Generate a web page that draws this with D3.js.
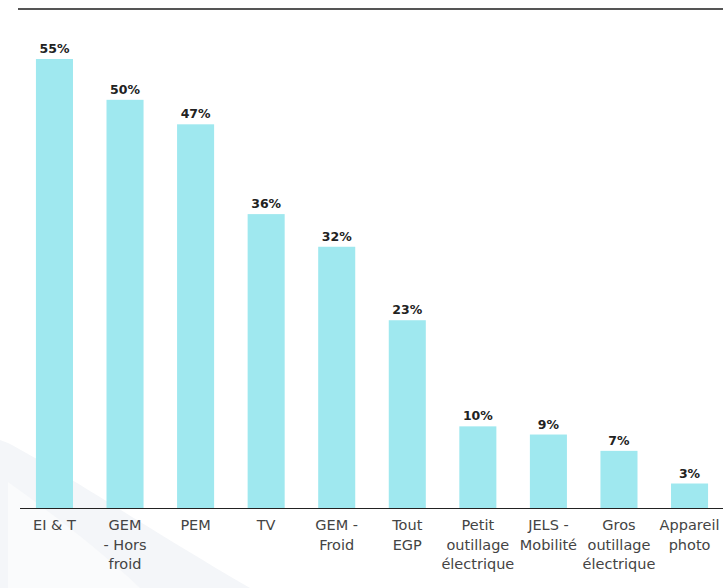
<!DOCTYPE html>
<html>
<head>
<meta charset="utf-8">
<script src="https://cdn.jsdelivr.net/npm/d3@7"></script>
<style>
  body { margin: 0; background: #fff; }
  svg { display: block; }
</style>
</head>
<body>
<div id="chart"></div>
<script>
// categories (label lines) and values in %
const categories = [
  ["EI & T"],
  ["GEM", "- Hors", "froid"],
  ["PEM"],
  ["TV"],
  ["GEM -", "Froid"],
  ["Tout", "EGP"],
  ["Petit", "outillage", "électrique"],
  ["JELS -", "Mobilité"],
  ["Gros", "outillage", "électrique"],
  ["Appareil", "photo"]
];
const values = [55, 50, 47, 36, 32, 23, 10, 9, 7, 3];

const width = 723, height = 588;
const base = 508;

const svg = d3.select("#chart").append("svg")
  .attr("width", width)
  .attr("height", height);

// faint background swoosh bottom-left
svg.append("path")
  .attr("d", "M0,440 L8,443 C60,470 150,530 250,588 L0,588 Z")
  .attr("fill", "#f4f6f9");
svg.append("path")
  .attr("d", "M8,482 C50,512 100,550 140,588 L8,588 Z")
  .attr("fill", "#fafbfc");

// top rule
svg.append("line")
  .attr("x1", 18).attr("x2", width)
  .attr("y1", 9).attr("y2", 9)
  .attr("stroke", "#555").attr("stroke-width", 2);

const x = d3.scaleBand()
  .domain(d3.range(values.length))
  .range([19, 725])
  .paddingInner(0.475)
  .paddingOuter(0.24);

const y = d3.scaleLinear()
  .domain([0, 55])
  .range([base, 59]);

svg.selectAll("rect.bar")
  .data(values)
  .enter()
  .append("rect")
  .attr("class", "bar")
  .attr("x", (d, i) => x(i))
  .attr("width", x.bandwidth())
  .attr("y", d => y(d))
  .attr("height", d => base - y(d))
  .attr("fill", "#9fe8ef");

svg.selectAll("text.val")
  .data(values)
  .enter()
  .append("text")
  .attr("class", "val")
  .attr("x", (d, i) => x(i) + x.bandwidth() / 2)
  .attr("y", d => y(d) - 6)
  .attr("text-anchor", "middle")
  .attr("font-family", "'DejaVu Sans', sans-serif")
  .attr("font-weight", "bold")
  .attr("font-size", "12.5px")
  .attr("fill", "#222")
  .text(d => d + "%");

// axis line
svg.append("line")
  .attr("x1", 20).attr("x2", width)
  .attr("y1", base + 0.5).attr("y2", base + 0.5)
  .attr("stroke", "#222").attr("stroke-width", 1.2);

const labels = svg.selectAll("text.cat")
  .data(categories)
  .enter()
  .append("text")
  .attr("class", "cat")
  .attr("text-anchor", "middle")
  .attr("font-family", "'DejaVu Sans', sans-serif")
  .attr("font-size", "14.5px")
  .attr("fill", "#444");

labels.selectAll("tspan")
  .data((d, i) => d.map(t => ({ t, i })))
  .enter()
  .append("tspan")
  .attr("x", d => x(d.i) + x.bandwidth() / 2)
  .attr("y", (d, j) => base + 22 + j * 19.5)
  .text(d => d.t);
</script>
</body>
</html>
